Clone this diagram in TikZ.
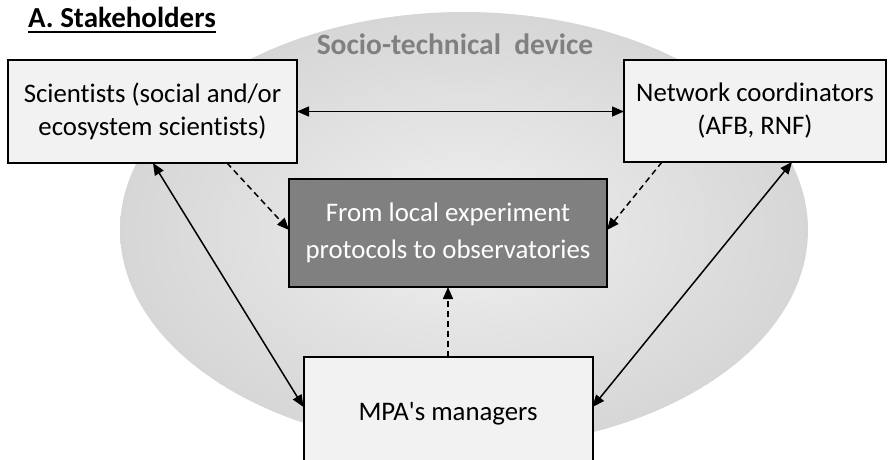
\documentclass[tikz,border=0pt]{standalone}
\usepackage{fontspec}
\setmainfont{Carlito}[Ligatures=NoCommon]
\usetikzlibrary{positioning,arrows.meta}

\begin{document}
\begin{tikzpicture}[x=1pt,y=-1pt,
  actor/.style={draw=black,line width=2pt,fill=gray!10,align=center,outer sep=0pt,font=\fontsize{26.8}{33}\selectfont},
  link/.style={black,line width=1.5pt,{Triangle[length=12pt,width=10pt]}-{Triangle[length=12pt,width=10pt]}},
  feed/.style={black,line width=1.5pt,dash pattern=on 6pt off 4pt,-{Triangle[length=12pt,width=10pt]}}]
\useasboundingbox (0,0) rectangle (889,460);
\clip (0,0) rectangle (889,460);
\shade [inner color=gray!12, outer color=gray!32] (464,230) ellipse [x radius=344pt, y radius=218pt];
\node [anchor=base, text=gray, font=\fontsize{29.5}{35}\selectfont\bfseries] (device) at (455,55) {Socio-technical\ \ device};
\node [anchor=base west, inner sep=0pt, font=\fontsize{29}{35}\selectfont\bfseries] (title) at (28,28) {A. Stakeholders};
\node [actor, fill=gray, text=white, minimum width=318pt, minimum height=108pt, font=\fontsize{26.8}{37}\selectfont] (proto) at (448,233) {From local experiment\\protocols to observatories};
\node [actor, minimum width=289pt, minimum height=103pt, above left=16pt and -8pt of proto] (sci) {Scientists (social and/or\\ecosystem scientists)};
\node [actor, minimum width=262pt, minimum height=102pt, above right=17pt and 17pt of proto] (net) {Network coordinators\\(AFB, RNF)};
\node [actor, minimum width=289pt, minimum height=114pt, below=70pt of proto] (mpa) {MPA\textquotesingle s managers};
\draw [black, line width=2pt] ([yshift=-4.5pt]title.base west) -- ([yshift=-4.5pt]title.base east);
\draw [link] (sci.east) -- (net.west |- sci.east);
\draw [link] ([xshift=145pt]sci.south west) -- ([yshift=-50pt]mpa.north west);
\draw [link] ([xshift=168pt]net.south west) -- ([yshift=-50pt]mpa.north east);
\draw [feed] ([xshift=219pt]sci.south west) -- ([yshift=3pt]proto.west);
\draw [feed] ([xshift=38pt]net.south west) -- ([yshift=3pt]proto.east);
\draw [feed] (mpa.north) -- (proto.south);
\end{tikzpicture}
\end{document}
